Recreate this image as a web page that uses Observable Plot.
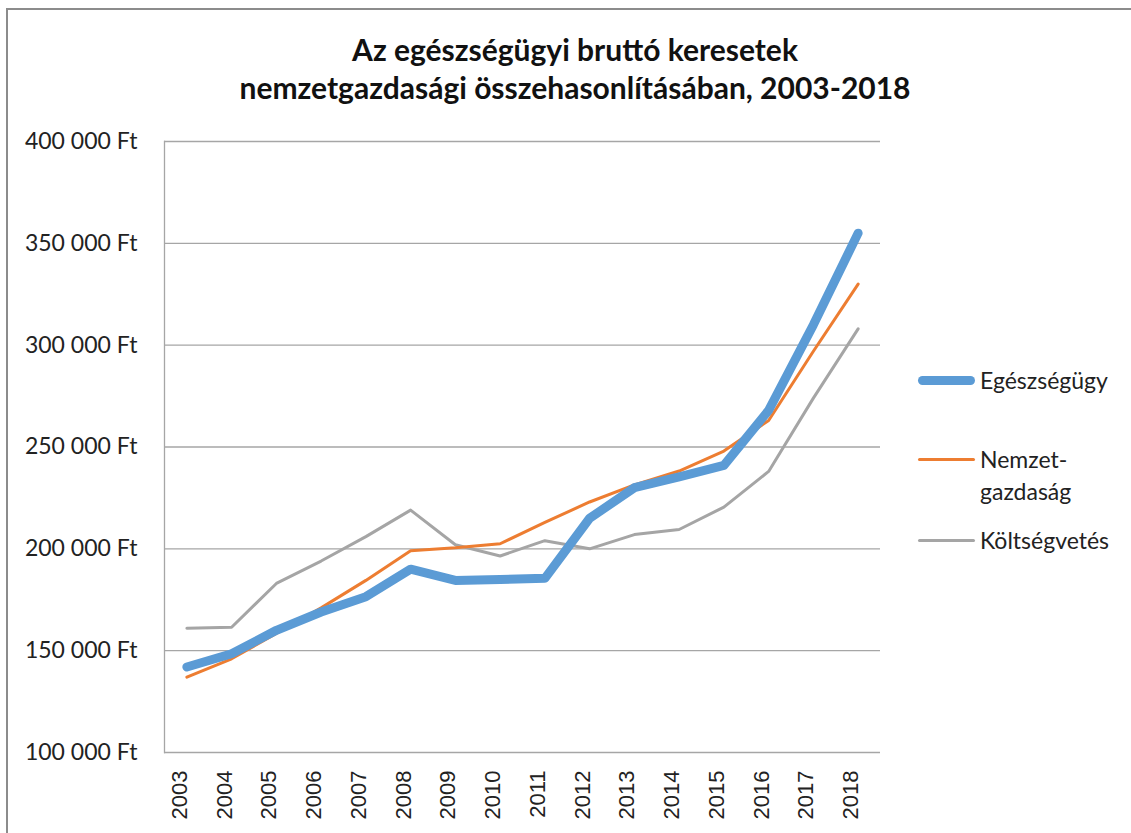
<!DOCTYPE html>
<html>
<head>
<meta charset="utf-8">
<script src="https://cdn.jsdelivr.net/npm/d3@7"></script>
<script src="https://cdn.jsdelivr.net/npm/@observablehq/plot@0.6"></script>
<style>
  html, body { margin: 0; padding: 0; background: #fff; }
  #wrap { position: relative; width: 1131px; height: 833px; overflow: hidden; font-family: Lato, "Open Sans", sans-serif; }
  #border { position: absolute; left: 6px; top: 8px; width: 1200px; height: 900px; border-top: 2px solid #8c8c8c; border-left: 2px solid #8c8c8c; box-sizing: border-box; }
  #title { position: absolute; left: 0; top: 30px; width: 1150px; text-align: center; font-family: Lato, sans-serif; font-weight: bold; font-size: 30px; line-height: 38px; color: #111; }
  #chart { position: absolute; left: 0; top: 120px; }
  .leg { position: absolute; font-family: Lato, sans-serif; font-size: 23px; color: #222; line-height: 32px; }
  .sw { position: absolute; height: 0; border-radius: 6px; }
</style>
</head>
<body>
<div id="wrap">
  <div id="border"></div>
  <div id="title">Az egészségügyi bruttó keresetek<br>nemzetgazdasági összehasonlításában, 2003-2018</div>
  <div id="chart"></div>
  <div id="legend"></div>
</div>
<script>
const years = [2003,2004,2005,2006,2007,2008,2009,2010,2011,2012,2013,2014,2015,2016,2017,2018];
const egeszsegugy = [142000,148500,160000,169000,176500,190000,184500,185000,185500,215000,230000,235300,241000,268000,310000,355000];
const nemzetgazdasag = [137000,146000,158500,171000,184500,199000,200500,202500,213000,223000,231400,238200,248000,263000,297000,330000];
const koltsegvetes = [161000,161500,183000,194000,206000,219000,202000,196500,204000,200000,207000,209500,220500,238000,274000,308000];
const seriesNames = ["Egészségügy", "Nemzet-\ngazdaság", "Költségvetés"];
const seriesColors = ["#5B9BD5", "#ED7D31", "#A5A5A5"];
const seriesWidths = [9, 3, 3];
const yTicks = [100000,150000,200000,250000,300000,350000,400000];

const allSeries = [egeszsegugy, nemzetgazdasag, koltsegvetes];
const rows = [];
[2,1,0].forEach(si => {
  years.forEach((yr, i) => rows.push({series: si, year: yr, value: allSeries[si][i]}));
});

const fmt = d => d3.format(",")(d).replace(/,/g, " ") + " Ft";

const plot = Plot.plot({
  width: 1131,
  height: 713,
  marginLeft: 164,
  marginRight: 251,
  marginTop: 21,
  marginBottom: 81,
  style: {background: "transparent", overflow: "visible"},
  x: {type: "point", domain: years, padding: 0.5, round: false},
  y: {domain: [100000, 400000]},
  marks: [
    Plot.ruleY(yTicks, {stroke: "#a6a6a6", strokeWidth: 1.3}),
    Plot.frame({anchor: "left", stroke: "#a6a6a6", strokeWidth: 1.3}),
    Plot.axisY({ticks: yTicks, tickFormat: fmt, tickSize: 0, tickPadding: 27, fontSize: 23, fontFamily: "Lato, sans-serif", fill: "#222", label: null}),
    Plot.axisX({tickSize: 0, tickPadding: 18, tickRotate: -90, fontSize: 22, fontFamily: "Liberation Sans, Arial, sans-serif", fill: "#222", label: null, tickFormat: d => String(d), dx: -7}),
    ...[2,1,0].map(si => Plot.line(rows.filter(r => r.series === si), {
      x: "year", y: "value",
      stroke: seriesColors[si], strokeWidth: seriesWidths[si],
      strokeLinecap: "round", strokeLinejoin: "round"
    }))
  ]
});
document.getElementById("chart").appendChild(plot);

const legend = document.getElementById("legend");
const legY = [380, 459, 540];
seriesNames.forEach((name, i) => {
  const sw = document.createElement("div");
  sw.className = "sw";
  sw.style.left = "918px";
  sw.style.width = "57px";
  sw.style.top = (legY[i] - seriesWidths[i] / 2) + "px";
  sw.style.height = seriesWidths[i] + "px";
  sw.style.background = seriesColors[i];
  legend.appendChild(sw);
  const t = document.createElement("div");
  t.className = "leg";
  t.style.left = "980px";
  t.style.top = (legY[i] - 16) + "px";
  t.innerHTML = name.replace("\n", "<br>");
  legend.appendChild(t);
});
</script>
</body>
</html>
